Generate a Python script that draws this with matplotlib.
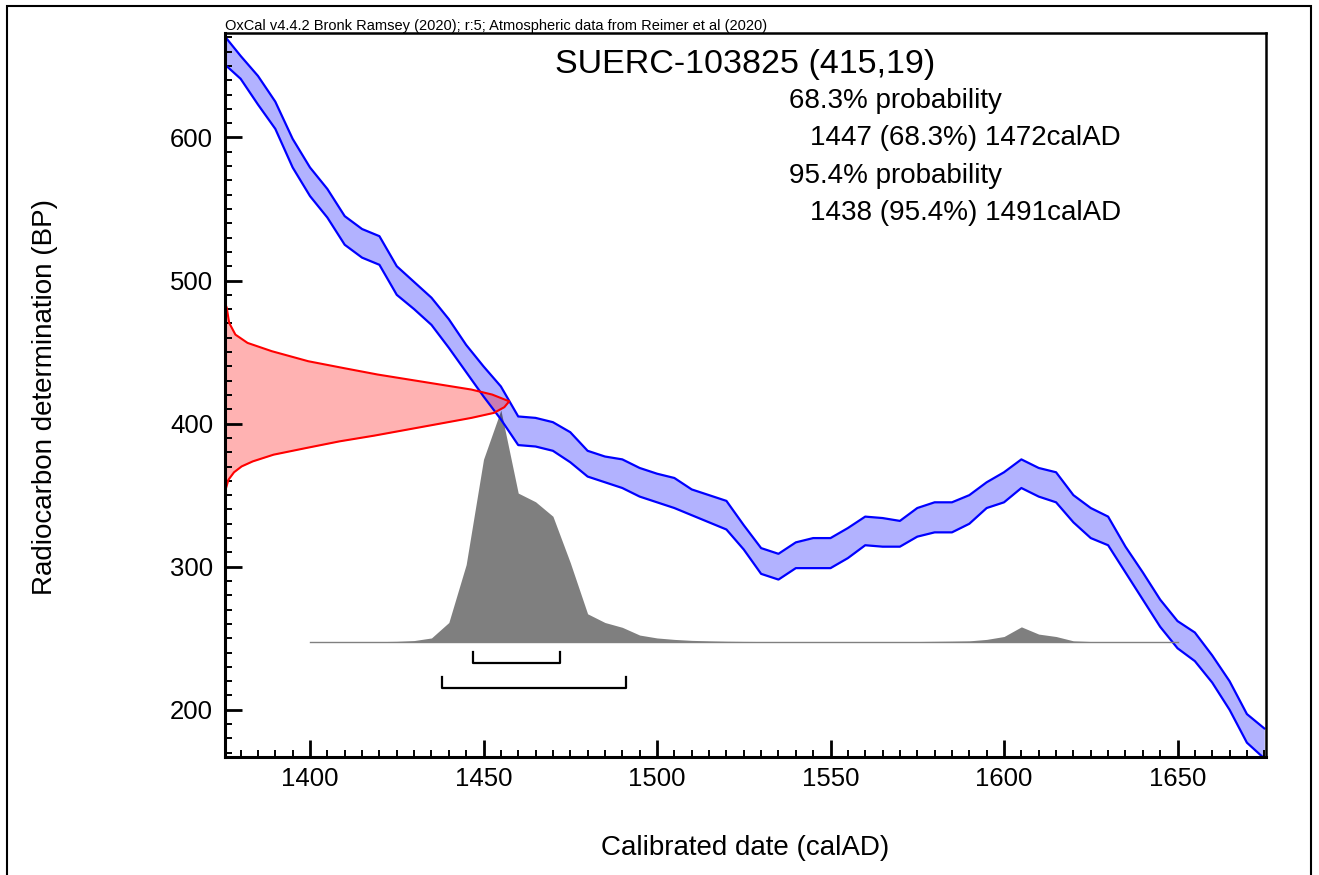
import numpy as np
import matplotlib
matplotlib.use("Agg")
import matplotlib.pyplot as plt
from matplotlib.patches import Rectangle
from matplotlib.ticker import MultipleLocator

plt.rcParams['font.family'] = ['Liberation Sans', 'DejaVu Sans']

# calibration curve (IntCal20), 5-year steps, upper / lower edge in BP
curve_years = [1375, 1380, 1385, 1390, 1395, 1400, 1405, 1410, 1415, 1420, 1425, 1430,
               1435, 1440, 1445, 1450, 1455, 1460, 1465, 1470, 1475, 1480, 1485, 1490,
               1495, 1500, 1505, 1510, 1515, 1520, 1525, 1530, 1535, 1540, 1545, 1550,
               1555, 1560, 1565, 1570, 1575, 1580, 1585, 1590, 1595, 1600, 1605, 1610,
               1615, 1620, 1625, 1630, 1635, 1640, 1645, 1650, 1655, 1660, 1665, 1670, 1675]
curve_upper = [672, 657, 643, 625, 599, 579, 564, 545, 536, 531, 510, 499,
               488, 473, 455, 440, 426, 405, 404, 401, 394, 381, 377, 375,
               369, 365, 362, 354, 350, 346, 329, 313, 309, 317, 320, 320,
               327, 335, 334, 332, 341, 345, 345, 350, 359, 366, 375, 369,
               366, 350, 341, 335, 314, 296, 277, 262, 254, 238, 220, 197, 187]
curve_lower = [652, 641, 623, 606, 579, 559, 544, 525, 516, 511, 490, 480,
               469, 453, 436, 419, 403, 385, 384, 381, 373, 363, 359, 355,
               349, 345, 341, 336, 331, 326, 312, 295, 291, 299, 299, 299,
               306, 315, 314, 314, 321, 324, 324, 330, 341, 345, 355, 349,
               345, 331, 320, 315, 296, 277, 258, 243, 234, 219, 200, 177, 166]

# radiocarbon measurement distribution (415 +/- 19 BP), width in years from left edge
red_bp = [484, 481, 470.4, 462.2, 456.4, 450.6, 443.6, 438.9, 434.3, 430.8, 427.3,
          423.8, 420.3, 415.6, 411.5, 407.5, 404.0, 400.0, 395.8, 391.6, 387.6, 383.0,
          378.3, 373.6, 370.1, 366.0, 360.8, 355, 350]
red_width = [0, 0.5, 1.2, 3.0, 6.5, 13.5, 24.0, 34.0, 44.0, 53.0, 62.0,
             71.0, 77.0, 81.9, 80.5, 77.5, 71.0, 62.0, 52.5, 43.0, 33.0, 23.5,
             14.0, 8.0, 4.8, 2.6, 1.0, 0.3, 0]

# calibrated probability distribution (relative)
cal_years = list(range(1400, 1655, 5))
cal_prob = [0, 0, 0, 0, 0.2, 0.5, 1.3, 4, 20, 80, 189, 240, 154, 145, 130, 82, 29,
            20, 15, 7, 4, 2.5, 1.5, 1, 0.6, 0.4, 0.3, 0.2, 0.2, 0.2, 0.2, 0.2, 0.2,
            0.2, 0.3, 0.3, 0.5, 0.7, 1, 2.5, 5.5, 15.5, 8, 5.5, 1, 0.3, 0.1, 0, 0, 0, 0]

ranges_68 = [(1447, 1472)]
ranges_95 = [(1438, 1491)]

W, H = 1319, 875
fig = plt.figure(figsize=(W / 100, H / 100), dpi=100)

def fx(x):
    return x / W

def fy(y):
    return 1 - y / H

ax = fig.add_axes([fx(225), fy(757), fx(1266) - fx(225), fy(33) - fy(757)])
xmin, xmax = 1375.5, 1675.5
ax.set_xlim(xmin, xmax)
ax.set_ylim(167, 673)

# calibration curve band
ax.fill_between(curve_years, curve_lower, curve_upper, color=(0, 0, 1, 0.3), lw=0)
ax.plot(curve_years, curve_upper, color='blue', lw=1.6)
ax.plot(curve_years, curve_lower, color='blue', lw=1.6)

# measurement
red_x = [xmin + w for w in red_width]
ax.fill_betweenx(red_bp, xmin, red_x, color=(1, 0, 0, 0.3), lw=0)
ax.plot(red_x, red_bp, color='red', lw=1.5)

# calibrated distribution
base = 247.5
scale = 162 / max(cal_prob)
hist_top = [base + p * scale for p in cal_prob]
ax.fill_between(cal_years, base, hist_top, color=(0, 0, 0, 0.5), lw=0)
ax.plot([cal_years[0], cal_years[-1]], [base, base], color='#808080', lw=1)

# range brackets
def bracket(lo, hi, y):
    ax.plot([lo, lo, hi, hi], [y + 7.5, y, y, y + 7.5], color='black', lw=1.6)

for lo, hi in ranges_68:
    bracket(lo, hi, 233)
for lo, hi in ranges_95:
    bracket(lo, hi, 215.5)

# axes styling
ax.xaxis.set_major_locator(MultipleLocator(50))
ax.xaxis.set_minor_locator(MultipleLocator(5))
ax.yaxis.set_major_locator(MultipleLocator(100))
ax.yaxis.set_minor_locator(MultipleLocator(10))
ax.tick_params(which='both', direction='in', top=False, right=False, labelsize=18.5)
ax.tick_params(which='major', length=12, width=2)
ax.tick_params(which='minor', length=5, width=1.4)
ax.tick_params(axis='y', pad=8.5)
ax.tick_params(axis='x', pad=7)
for s in ['left', 'bottom']:
    ax.spines[s].set_linewidth(2.2)
for s in ['top', 'right']:
    ax.spines[s].set_linewidth(1.8)

fig.text(fx(745), fy(848), 'Calibrated date (calAD)', ha='center', va='center', fontsize=20)
fig.text(fx(45), fy(397), 'Radiocarbon determination (BP)', ha='center', va='center',
         rotation=90, fontsize=20)
fig.text(fx(225), fy(30), 'OxCal v4.4.2 Bronk Ramsey (2020); r:5; Atmospheric data from Reimer et al (2020)',
         ha='left', va='baseline', fontsize=10.5)
fig.text(fx(745), fy(65), 'SUERC-103825 (415,19)', ha='center', va='center', fontsize=24.5)
fig.text(fx(789), fy(101), '68.3% probability', ha='left', va='center', fontsize=20)
fig.text(fx(810), fy(138), '1447 (68.3%) 1472calAD', ha='left', va='center', fontsize=20)
fig.text(fx(789), fy(176), '95.4% probability', ha='left', va='center', fontsize=20)
fig.text(fx(810), fy(213), '1438 (95.4%) 1491calAD', ha='left', va='center', fontsize=20)

# outer frame
fig.patches.append(Rectangle((fx(7), fy(880)), fx(1311) - fx(7), fy(6) - fy(880),
                             transform=fig.transFigure, fill=False, ec='black', lw=1.5,
                             figure=fig))

fig.savefig('out.png', dpi=100)
